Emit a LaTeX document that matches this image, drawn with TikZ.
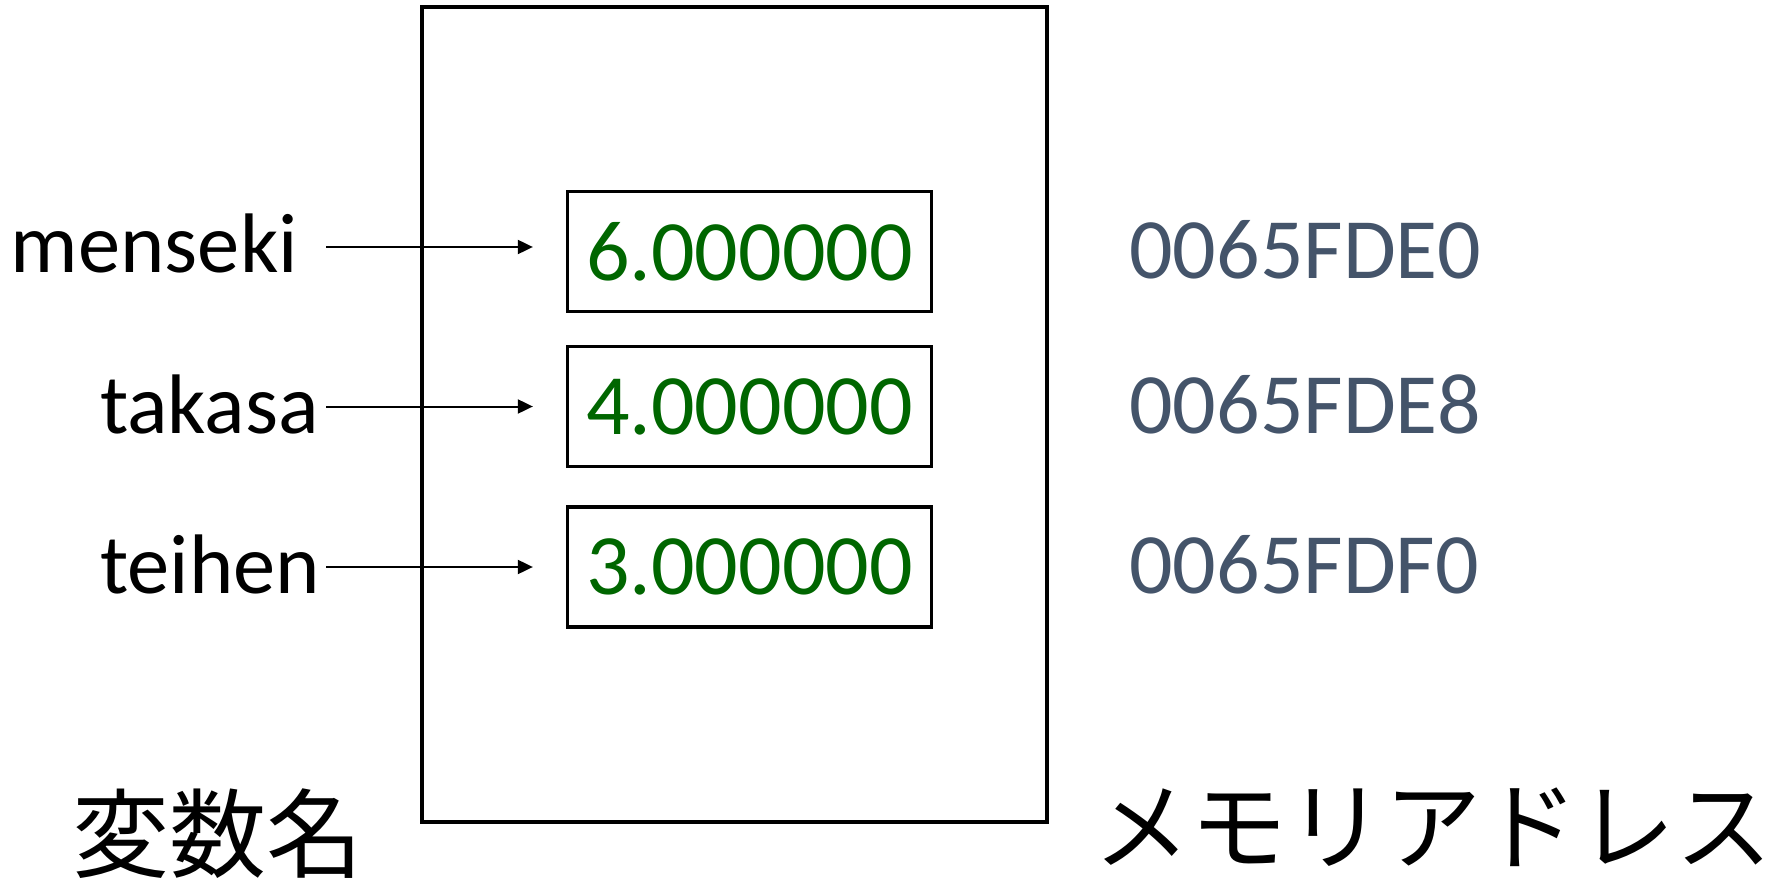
\documentclass[tikz,border=0pt]{standalone}
\usepackage{fontspec}
\setmainfont{Carlito}
\newfontfamily\jpfont{Noto Sans CJK JP}
\usetikzlibrary{arrows.meta}
\definecolor{valgreen}{RGB}{0,102,0}
\definecolor{addrcol}{RGB}{68,84,106}
\tikzset{
  lat/.style={font=\fontsize{86}{100}\selectfont, inner sep=0pt},
  jp/.style={font=\jpfont\fontsize{97}{110}\selectfont, inner sep=0pt},
  cell/.style={draw=black, line width=3.3pt, minimum width=364pt, minimum height=120pt,
               inner sep=0pt, text=valgreen, font=\fontsize{86}{100}\selectfont},
  addr/.style={lat, text=addrcol, anchor=west},
  varname/.style={font=\fontsize{84.5}{100}\selectfont, inner sep=0pt, anchor=base east},
  ptr/.style={line width=2pt, -{Triangle[length=15pt,width=14pt]}, shorten >=33pt}
}
\begin{document}
\begin{tikzpicture}[x=1pt,y=-1pt]
\useasboundingbox (0,0) rectangle (1790,882);
\draw[line width=3.3pt] (422,7) rectangle (1047,822);
\node[cell] (b1) at (749.5,251.5) {6.000000};
\node[cell] (b2) at (749.5,406.5) {4.000000};
\node[cell] (b3) at (749.5,567) {3.000000};
\node[varname] (n1) at (298,273) {menseki};
\node[varname] (n2) at (319,433) {takasa};
\node[varname] (n3) at (320,593) {teihen};
\coordinate (s1) at (326,247);
\coordinate (s2) at (326,406.5);
\coordinate (s3) at (326,567);
\draw[ptr] (s1) -- (s1 -| b1.west);
\draw[ptr] (s2) -- (s2 -| b2.west);
\draw[ptr] (s3) -- (s3 -| b3.west);
\node[addr] (a1) at (1129,249.5) {0065FDE0};
\node[addr] (a2) at (1129,404.5) {0065FDE8};
\node[addr] (a3) at (1129,565) {0065FDF0};
\node[jp, anchor=base west] (t1) at (72,870) {変数名};
\node[jp, anchor=base west] (t2) at (1093,862) {メモリアドレス};
\end{tikzpicture}
\end{document}
